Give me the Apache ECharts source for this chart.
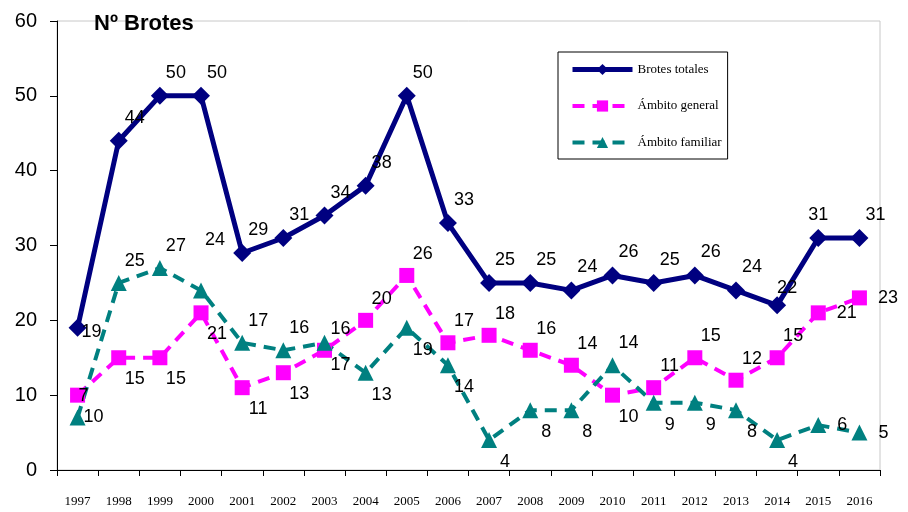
<!DOCTYPE html>
<html lang="es">
<head>
    <meta charset="UTF-8">
    <title>Nº Brotes</title>
    <script src="https://cdn.jsdelivr.net/npm/echarts@6/dist/echarts.min.js"></script>
    <style>
        body { margin: 0; padding: 0; background: #fff; }
        #chartContainer { width: 908px; height: 512px; }
    </style>
</head>
<body>
    <div id="chartContainer"></div>
    <script>
        // datos
        const years = ['1997', '1998', '1999', '2000', '2001', '2002', '2003', '2004', '2005', '2006',
                       '2007', '2008', '2009', '2010', '2011', '2012', '2013', '2014', '2015', '2016'];
        const brotesTotales = [19, 44, 50, 50, 29, 31, 34, 38, 50, 33, 25, 25, 24, 26, 25, 26, 24, 22, 31, 31];
        const ambitoGeneral = [10, 15, 15, 21, 11, 13, 16, 20, 26, 17, 18, 16, 14, 10, 11, 15, 12, 15, 21, 23];
        const ambitoFamiliar = [7, 25, 27, 24, 17, 16, 17, 13, 19, 14, 4, 8, 8, 14, 9, 9, 8, 4, 6, 5];

        // lado de cada etiqueta (tr = arriba dcha, br = abajo dcha, r = dcha, t = arriba)
        const totalesSide = ['rc', 'tr', 'tr', 'tr', 'tr', 'tr', 'tr', 'tr', 'tr', 'tr',
                             'tr', 'tr', 'tr', 'tr', 'tr', 'tr', 'tr', 'trl', 't', 'tr'];
        const generalSide = ['br', 'br', 'br', 'br', 'br', 'br', 'tr', 'tr', 'tr', 'tr',
                             'tr', 'tr', 'tr', 'br', 'tr', 'tr', 'tr', 'tr', 'r', 'r'];
        const familiarSide = ['trc', 'tr', 'tr', 'trh', 'tr', 'tr', 'br', 'br', 'br', 'br',
                              'br', 'br', 'br', 'tr', 'br', 'br', 'br', 'br', 'r', 'r'];

        const sideLabel = {
            tr: { position: 'top', offset: [16, 0] },
            trh: { position: 'top', offset: [14, -28] },
            trc: { position: 'top', offset: [6, 0] },
            trl: { position: 'top', offset: [10, 6] },
            br: { position: 'bottom', offset: [16, 0] },
            r: { position: 'right', offset: [6, 0] },
            rc: { position: 'right', offset: [-10, 4] },
            t: { position: 'top', offset: [0, 0] }
        };

        function withLabels(values, sides) {
            return values.map((v, i) => ({ value: v, label: sideLabel[sides[i]] }));
        }

        const labelFont = {
            show: true,
            fontFamily: 'Liberation Sans',
            fontSize: 18,
            color: '#000'
        };

        const chart = echarts.init(document.getElementById('chartContainer'));

        const option = {
            animation: false,
            title: {
                text: 'Nº Brotes',
                left: 89,
                top: 8,
                textStyle: { fontFamily: 'Liberation Sans', fontSize: 22, fontWeight: 'bold', color: '#000' }
            },
            legend: {
                orient: 'vertical',
                left: 558,
                top: 52,
                padding: [11, 6, 10, 12],
                itemWidth: 60,
                itemHeight: 14,
                itemGap: 23.5,
                borderColor: '#000',
                borderWidth: 1,
                backgroundColor: '#fff',
                lineStyle: { width: 'inherit' },
                textStyle: { fontFamily: 'Liberation Serif', fontSize: 13, color: '#000' },
                data: ['Brotes totales', 'Ámbito general', 'Ámbito familiar']
            },
            grid: {
                left: 57,
                right: 28,
                top: 21,
                bottom: 42,
                show: true,
                borderColor: '#c8c8c8',
                borderWidth: 1
            },
            xAxis: {
                type: 'category',
                data: years,
                boundaryGap: true,
                axisLine: { lineStyle: { color: '#000', width: 1 } },
                axisTick: { show: true, length: 6, lineStyle: { color: '#000' } },
                axisLabel: { margin: 25, fontFamily: 'Liberation Serif', fontSize: 13, color: '#000', interval: 0 }
            },
            yAxis: {
                type: 'value',
                min: 0,
                max: 60,
                interval: 10,
                axisLine: { show: true, lineStyle: { color: '#000', width: 1 } },
                axisTick: { show: true, length: 7, lineStyle: { color: '#000' } },
                splitLine: { show: false },
                axisLabel: { margin: 20, fontFamily: 'Liberation Sans', fontSize: 20, color: '#000' }
            },
            series: [
                {
                    name: 'Brotes totales',
                    type: 'line',
                    data: withLabels(brotesTotales, totalesSide),
                    symbol: 'diamond',
                    symbolSize: 18,
                    lineStyle: { color: '#000080', width: 5 },
                    itemStyle: { color: '#000080' },
                    label: labelFont,
                    z: 3
                },
                {
                    name: 'Ámbito general',
                    type: 'line',
                    data: withLabels(ambitoGeneral, generalSide),
                    symbol: 'rect',
                    symbolSize: 15,
                    lineStyle: { color: '#ff00ff', width: 4, type: [12, 8] },
                    itemStyle: { color: '#ff00ff' },
                    label: labelFont,
                    z: 2
                },
                {
                    name: 'Ámbito familiar',
                    type: 'line',
                    data: withLabels(ambitoFamiliar, familiarSide),
                    symbol: 'triangle',
                    symbolSize: 16,
                    lineStyle: { color: '#008080', width: 4, type: [12, 8] },
                    itemStyle: { color: '#008080' },
                    label: labelFont,
                    z: 2
                }
            ]
        };

        chart.setOption(option);
    </script>
</body>
</html>
